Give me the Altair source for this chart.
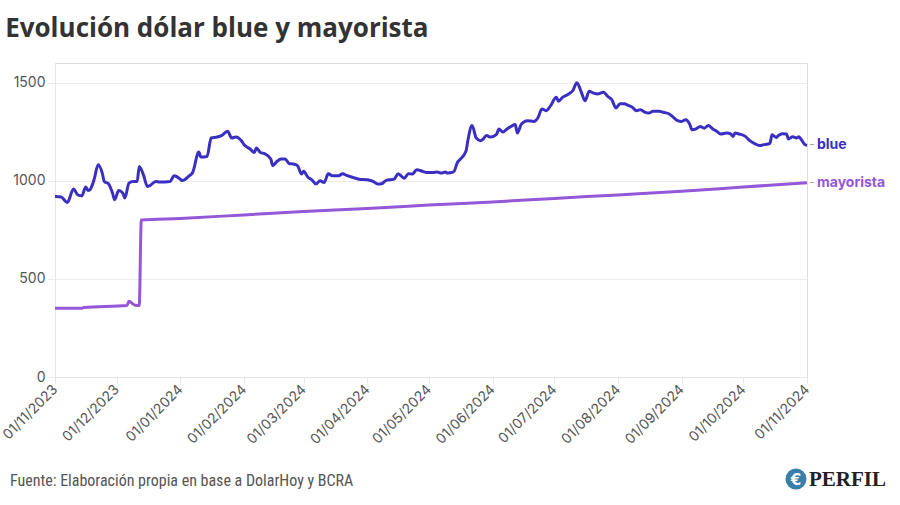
import altair as alt
import pandas as pd

title_text = "Evolución dólar blue y mayorista"
source_text = "Fuente: Elaboración propia en base a DolarHoy y BCRA"
logo_text = "PERFIL"
logo_icon = "€"

series_names = ["blue", "mayorista"]
series_colors = ["#3b2fc2", "#9457d8"]

y_ticks = [0, 500, 1000, 1500]
x_ticks = ["2023-11-01", "2023-12-01", "2024-01-01", "2024-02-01", "2024-03-01",
           "2024-04-01", "2024-05-01", "2024-06-01", "2024-07-01", "2024-08-01",
           "2024-09-01", "2024-10-01", "2024-11-01"]

blue_dates = [
    "2023-11-01", "2023-11-04", "2023-11-07", "2023-11-10", "2023-11-12", "2023-11-14",
    "2023-11-16", "2023-11-17", "2023-11-18", "2023-11-20", "2023-11-22", "2023-11-24",
    "2023-11-25", "2023-11-27", "2023-11-29", "2023-11-30", "2023-12-02", "2023-12-04",
    "2023-12-05", "2023-12-07", "2023-12-09", "2023-12-11", "2023-12-12", "2023-12-14",
    "2023-12-16", "2023-12-17", "2023-12-20", "2023-12-22", "2023-12-27", "2023-12-29",
    "2024-01-01", "2024-01-02", "2024-01-05", "2024-01-07", "2024-01-10", "2024-01-11",
    "2024-01-14", "2024-01-16", "2024-01-19", "2024-01-21", "2024-01-24", "2024-01-26",
    "2024-01-28", "2024-01-31", "2024-02-01", "2024-02-04", "2024-02-06", "2024-02-07",
    "2024-02-09", "2024-02-11", "2024-02-14", "2024-02-15", "2024-02-17", "2024-02-19",
    "2024-02-21", "2024-02-23", "2024-02-25", "2024-02-27", "2024-02-29", "2024-03-01",
    "2024-03-03", "2024-03-05", "2024-03-07", "2024-03-09", "2024-03-11", "2024-03-13",
    "2024-03-15", "2024-03-18", "2024-03-20", "2024-03-22", "2024-03-25", "2024-03-28",
    "2024-04-01", "2024-04-04", "2024-04-06", "2024-04-08", "2024-04-10", "2024-04-14",
    "2024-04-16", "2024-04-19", "2024-04-21", "2024-04-23", "2024-04-25", "2024-04-28",
    "2024-04-30", "2024-05-03", "2024-05-05", "2024-05-07", "2024-05-09", "2024-05-10",
    "2024-05-13", "2024-05-15", "2024-05-16", "2024-05-19", "2024-05-20", "2024-05-22",
    "2024-05-24", "2024-05-26", "2024-05-27", "2024-05-29", "2024-05-31", "2024-06-03",
    "2024-06-04", "2024-06-06", "2024-06-08", "2024-06-10", "2024-06-12", "2024-06-13",
    "2024-06-15", "2024-06-18", "2024-06-21", "2024-06-23", "2024-06-25", "2024-06-27",
    "2024-06-29", "2024-07-02", "2024-07-03", "2024-07-05", "2024-07-08", "2024-07-10",
    "2024-07-12", "2024-07-14", "2024-07-16", "2024-07-18", "2024-07-20", "2024-07-22",
    "2024-07-25", "2024-07-27", "2024-07-29", "2024-07-31", "2024-08-02", "2024-08-04",
    "2024-08-06", "2024-08-08", "2024-08-10", "2024-08-12", "2024-08-14", "2024-08-16",
    "2024-08-18", "2024-08-21", "2024-08-23", "2024-08-26", "2024-08-28", "2024-08-30",
    "2024-09-01", "2024-09-03", "2024-09-05", "2024-09-06", "2024-09-08", "2024-09-10",
    "2024-09-12", "2024-09-14", "2024-09-16", "2024-09-18", "2024-09-20", "2024-09-23",
    "2024-09-25", "2024-09-26", "2024-09-27", "2024-09-29", "2024-10-02", "2024-10-04",
    "2024-10-07", "2024-10-09", "2024-10-11", "2024-10-13", "2024-10-14", "2024-10-15",
    "2024-10-17", "2024-10-18", "2024-10-20", "2024-10-22", "2024-10-23", "2024-10-25",
    "2024-10-27", "2024-10-28", "2024-10-29", "2024-10-31", "2024-11-01",
]
blue_values = [
    920, 917, 889, 958, 929, 923,
    968, 950, 954, 1005, 1082, 1039,
    996, 985, 937, 903, 950, 937,
    912, 988, 996, 996, 1073, 1031,
    971, 974, 996, 993, 996, 1025,
    1008, 1001, 1022, 1042, 1146, 1121,
    1124, 1218, 1223, 1230, 1252, 1218,
    1223, 1200, 1184, 1162, 1144, 1167,
    1144, 1138, 1111, 1077, 1098, 1111,
    1111, 1087, 1085, 1077, 1034, 1048,
    1019, 1005, 983, 1000, 991, 1036,
    1025, 1025, 1036, 1027, 1017, 1008,
    1005, 996, 983, 985, 1001, 1008,
    1036, 1013, 1036, 1034, 1056, 1048,
    1042, 1042, 1045, 1039, 1045, 1039,
    1045, 1096, 1107, 1150, 1209, 1282,
    1218, 1204, 1209, 1230, 1223, 1238,
    1264, 1248, 1264, 1277, 1286, 1243,
    1289, 1306, 1302, 1320, 1366, 1357,
    1379, 1425, 1405, 1425, 1442, 1459,
    1500, 1456, 1408, 1456, 1447, 1442,
    1451, 1430, 1413, 1371, 1392, 1392,
    1384, 1374, 1357, 1362, 1350, 1345,
    1354, 1354, 1349, 1340, 1323, 1306,
    1302, 1311, 1286, 1260, 1264, 1277,
    1268, 1282, 1265, 1252, 1238, 1243,
    1238, 1226, 1243, 1238, 1226, 1206,
    1187, 1179, 1184, 1187, 1192, 1235,
    1221, 1230, 1240, 1238, 1213, 1224,
    1218, 1224, 1213, 1184, 1180,
]

may_dates = [
    "2023-11-01", "2023-11-14", "2023-11-15", "2023-12-06", "2023-12-07", "2023-12-08",
    "2023-12-10", "2023-12-12", "2023-12-13", "2024-01-01", "2024-02-01", "2024-03-01",
    "2024-04-01", "2024-05-01", "2024-06-01", "2024-07-01", "2024-08-01", "2024-09-01",
    "2024-10-01", "2024-11-01",
]
may_values = [
    350, 350, 354, 364, 386, 380,
    366, 364, 800, 808, 826, 843,
    858, 876, 892, 910, 928, 946,
    968, 990,
]

df = pd.concat([
    pd.DataFrame({"fecha": blue_dates, "valor": blue_values, "serie": series_names[0]}),
    pd.DataFrame({"fecha": may_dates, "valor": may_values, "serie": series_names[1]}),
], ignore_index=True)
last = df.groupby("serie").tail(1)


def dt(s):
    y, m, d = (int(p) for p in s.split("-"))
    return alt.DateTime(year=y, month=m, date=d, utc=True)


x_enc = alt.X(
    "fecha:T",
    scale=alt.Scale(type="utc", domain=[dt(x_ticks[0]), dt(x_ticks[-1])], nice=False),
    axis=alt.Axis(
        values=[dt(s) for s in x_ticks],
        labelExpr="utcFormat(datum.value, '%d/%m/%Y')",
        labelAngle=-45, labelAlign="right", labelBaseline="middle",
        grid=False, ticks=True, tickSize=6, labelPadding=4, title=None,
        labelFontSize=14, labelColor="#555555", labelFont="Inter",
        domainColor="#e6e6e6", tickColor="#e6e6e6", labelOverlap=False,
    ),
)
y_enc = alt.Y(
    "valor:Q",
    scale=alt.Scale(domain=[0, 1600], nice=False),
    axis=alt.Axis(
        values=y_ticks, format="d", grid=True, gridColor="#ececec", tickSize=8,
        tickColor="#ececec", domainColor="#e6e6e6", labelPadding=2, title=None,
        labelFontSize=14, labelColor="#555555", labelFont="Inter",
    ),
)
color_enc = alt.Color("serie:N", scale=alt.Scale(domain=series_names, range=series_colors),
                      legend=None)

lines = alt.Chart(df).mark_line(interpolate="monotone", strokeWidth=3).encode(
    x=x_enc, y=y_enc, color=color_enc, order=alt.Order("fecha:T"),
)

dash = alt.Chart(last).mark_text(align="left", baseline="middle", dx=2, fontSize=13,
                                 color="#aaaaaa", font="Inter").encode(
    x=x_enc, y=y_enc, text=alt.value("-"),
)
labels = alt.Chart(last).mark_text(align="left", baseline="middle", dx=10, fontSize=14,
                                   fontWeight="bold", font="Inter").encode(
    x=x_enc, y=y_enc, text="serie:N", color=color_enc,
)

footer = alt.Chart(pd.DataFrame({"t": [source_text]})).mark_text(
    align="left", baseline="middle", fontSize=16, color="#555555",
    font="Liberation Sans Narrow, Roboto Condensed, Open Sans",
).encode(x=alt.value(-45), y=alt.value(418), text="t:N")

logo_circle = alt.Chart(pd.DataFrame({"t": [logo_icon]})).mark_point(
    filled=True, size=440, color="#3a7fa8", opacity=1, shape="circle",
).encode(x=alt.value(741), y=alt.value(416))
logo_sym = alt.Chart(pd.DataFrame({"t": [logo_icon]})).mark_text(
    align="center", baseline="middle", fontSize=15, fontWeight="bold", color="white",
    font="DejaVu Sans",
).encode(x=alt.value(741), y=alt.value(417), text="t:N")
logo_word = alt.Chart(pd.DataFrame({"t": [logo_text]})).mark_text(
    align="left", baseline="middle", fontSize=21, fontWeight="bold", color="#222222",
    font="Liberation Serif",
).encode(x=alt.value(754), y=alt.value(417), text="t:N")

chart = alt.layer(lines, dash, labels, footer, logo_circle, logo_sym, logo_word).properties(
    width=752, height=314,
    title=alt.TitleParams(title_text, anchor="start", dx=5, offset=21, fontSize=26,
                          fontWeight="bold", font="Open Sans", color="#333333"),
    autosize=alt.AutoSizeParams(type="none"),
    padding={"left": 55, "top": 63, "right": 93, "bottom": 128},
).configure_view(stroke=None).configure(background="white")

chart.save("out.html", embed_options={"renderer": "svg", "actions": False})
